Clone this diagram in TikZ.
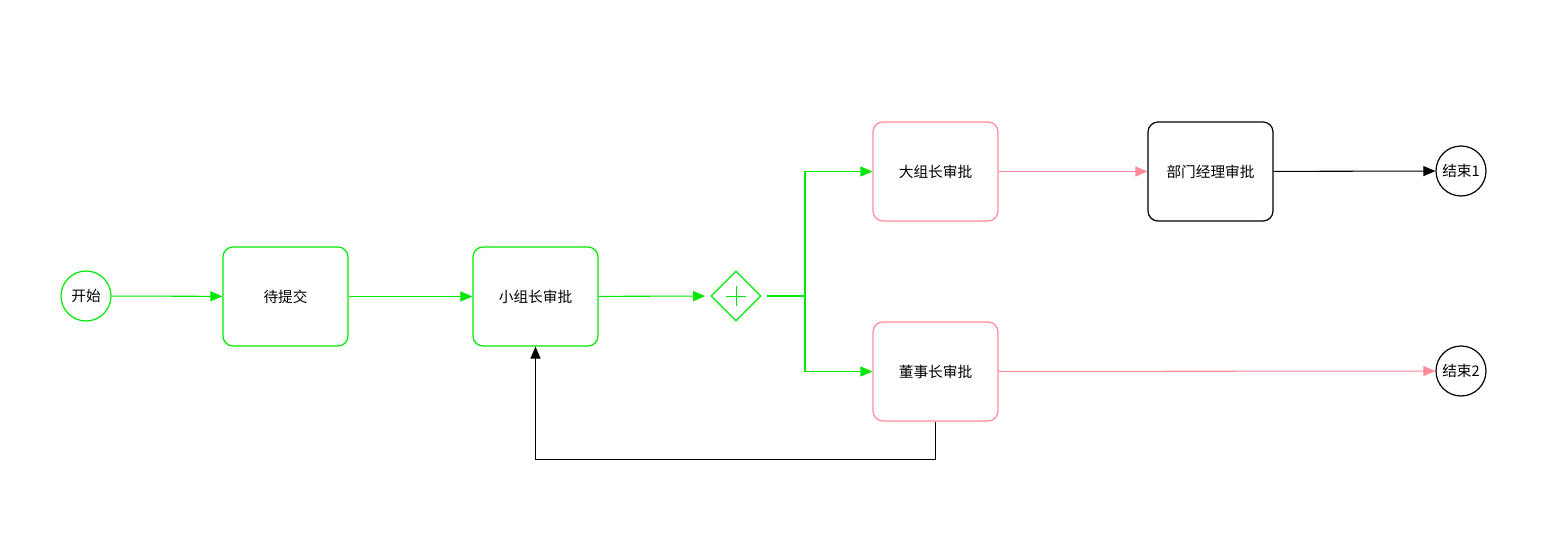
\documentclass[tikz,border=0pt]{standalone}
\usepackage{fontspec}
\setmainfont{Noto Sans CJK SC}
\usetikzlibrary{positioning,arrows.meta,shapes.geometric}

\definecolor{flowgreen}{RGB}{0,232,0}
\definecolor{flowpink}{RGB}{255,138,152}

\begin{document}
\begin{tikzpicture}[
    x=0.75pt, y=-0.75pt,
    font=\fontsize{11}{13}\selectfont,
    box/.style={draw, rounded corners=7.5pt, minimum width=93.75pt,
                minimum height=74.25pt, line width=0.9pt, align=center},
    event/.style={draw, circle, minimum size=37.5pt, inner sep=0pt,
                  line width=0.9pt},
    gbox/.style={box, draw=flowgreen},
    pbox/.style={box, draw=flowpink},
    kbox/.style={box, draw=black},
    gflow/.style={-{Triangle[length=9pt, width=7.5pt]}, draw=flowgreen,
                  line width=0.8pt},
    pflow/.style={-{Triangle[length=9pt, width=7.5pt]}, draw=flowpink,
                  line width=0.8pt},
    kflow/.style={-{Triangle[length=9pt, width=7.5pt]}, draw=black,
                  line width=0.8pt},
  ]
  \useasboundingbox (0,0) rectangle (1568,542);

  % --- Main line ----------------------------------------------------------
  \node[event, draw=flowgreen] (start) at (86, 296) {开始};
  \node[gbox] (submit) at (285.5, 296.5) {待提交};
  \node[gbox] (team) at (535.5, 296.5) {小组长审批};
  \node[diamond, draw=flowgreen, minimum width=37.5pt, minimum height=37.5pt,
        inner sep=0pt, line width=0.9pt] (gate) at (736, 296) {};
  \draw[flowgreen, line width=0.7pt] (gate.center) +(-10,0) -- +(10,0)
    (gate.center) +(0,-10) -- +(0,10);
  \coordinate (split) at (805, 296);

  % --- Upper branch -------------------------------------------------------
  \node[pbox] (group) at (935.5, 171.5) {大组长审批};
  \node[kbox] (dept) at (1210.5, 171.5) {部门经理审批};
  \node[event] (end1) at (1461, 171) {结束1};

  % --- Lower branch -------------------------------------------------------
  \node[pbox] (board) at (935.5, 371.5) {董事长审批};
  \node[event] (end2) at (1461, 371) {结束2};

  % --- Arrows -------------------------------------------------------------
  \draw[gflow] (start) -- (submit);
  \draw[gflow] (submit) -- (team);
  \draw[gflow, shorten >=4pt] (team) -- (gate);
  \draw[flowgreen, line width=0.8pt] (gate.east) ++(5,0) -- (split);
  \draw[gflow] (split) |- (group.west);
  \draw[gflow] (split) |- (board.west);
  \draw[pflow] (group) -- (dept);
  \draw[kflow] (dept) -- (end1);
  \draw[pflow] (board) -- (end2);
  \draw[kflow] (board.south) -- ++(0,38) -| (team.south);

\end{tikzpicture}
\end{document}
